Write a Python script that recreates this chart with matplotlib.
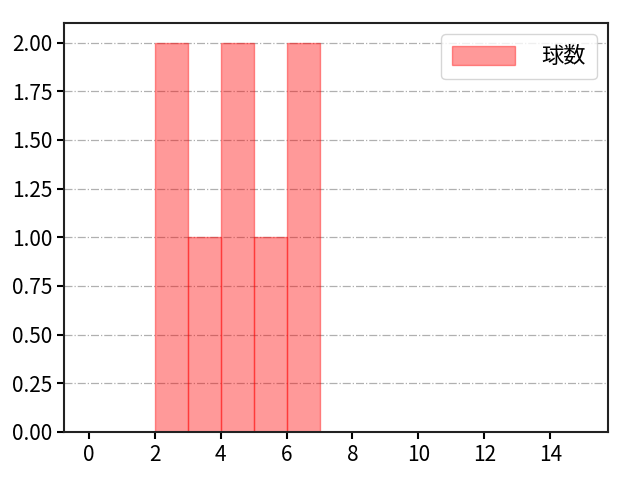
import numpy as np
import matplotlib
matplotlib.use('Agg')
import matplotlib.pyplot as plt

plt.rcParams['font.family'] = ['Noto Sans CJK JP', 'DejaVu Sans']

# Observed values (one entry per pitch)
pitch_values = [2, 2, 3, 4, 4, 5, 6, 6]
bin_edges = np.arange(0, 16, 1)
label = '球数'

fig, ax = plt.subplots(figsize=(6.4, 4.8), dpi=100)
ax.hist(pitch_values, bins=bin_edges, color='red', alpha=0.4,
        edgecolor='red', linewidth=1.0, label=label)

ax.set_xlim(-0.75, 15.75)
ax.set_xticks(np.arange(0, 15, 2))
ax.set_yticks(np.arange(0, 2.01, 0.25))
ax.yaxis.set_major_formatter(matplotlib.ticker.FormatStrFormatter('%.2f'))
ax.grid(axis='y', linestyle='-.', color='#b0b0b0', linewidth=0.9)
ax.set_axisbelow(True)
ax.tick_params(labelsize=15, width=1.5, length=5)
for s in ax.spines.values():
    s.set_linewidth(1.5)
    s.set_color('#222222')

ax.legend(loc='upper right', fontsize=16, handlelength=2.8,
          handleheight=0.95, borderpad=0.5, handletextpad=1.2)
fig.subplots_adjust(left=0.1, right=0.95, top=0.952, bottom=0.1)
fig.savefig('out.png')
